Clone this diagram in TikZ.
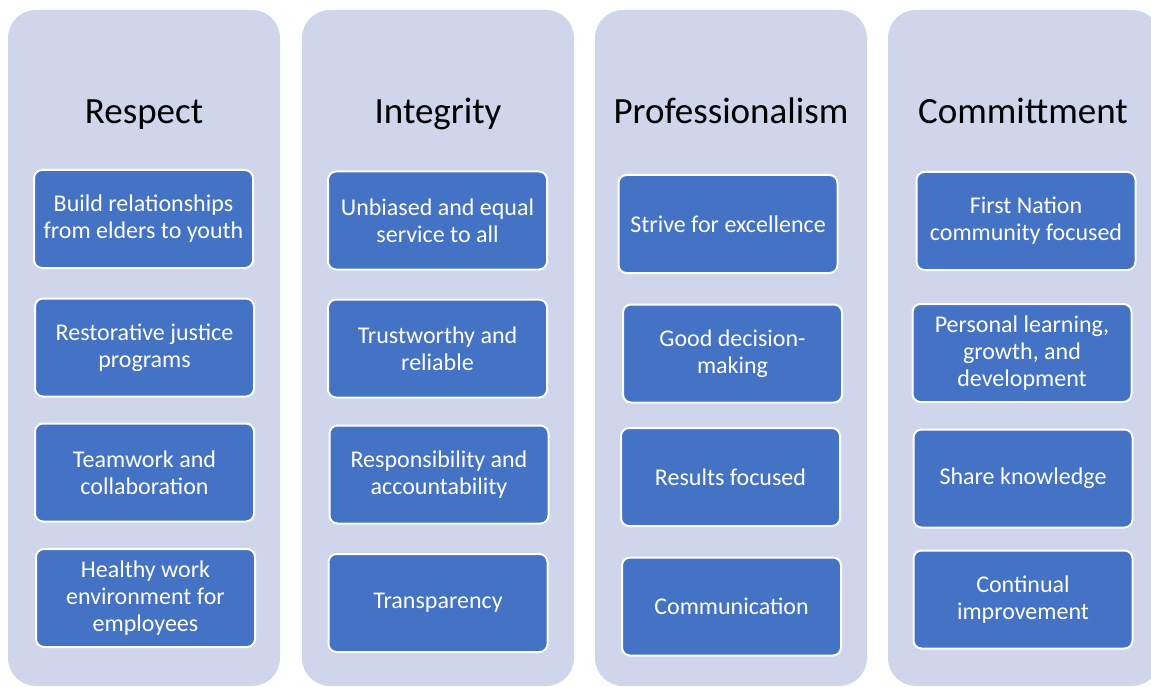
\documentclass[tikz,border=0pt]{standalone}
\usepackage{fontspec}
\setmainfont{Carlito}
\usepackage{xcolor}
\definecolor{colfill}{HTML}{CFD5EA}
\definecolor{boxfill}{HTML}{4472C4}

\begin{document}
\begin{tikzpicture}[x=1pt,y=-1pt]
%style for column background
\tikzstyle{column} = [rectangle, rounded corners=28pt, fill=colfill, minimum width=272pt, minimum height=676pt, inner sep=0pt]

%style for column title
\tikzstyle{title} = [anchor=base, text=black, font=\fontsize{37}{42}\selectfont]

%style for value box
\tikzstyle{vbox} = [rectangle, rounded corners=8pt, fill=boxfill, draw=white, line width=2pt, minimum width=219pt, minimum height=98pt, align=center, text=white, font=\fontsize{24}{27}\selectfont]

\useasboundingbox (0,0) rectangle (1151,687);
\clip (0,0) rectangle (1151,687);

%place columns
\node[column](colR) at (144,348) {};
\node[column](colI) at (438,348) {};
\node[column](colP) at (731,348) {};
\node[column](colC) at (1024,348) {};

%place titles
\node[title](tR) at (144,124) {Respect};
\node[title](tI) at (438,124) {Integrity};
\node[title](tP) at (731,124) {Professionalism};
\node[title](tC) at (1023,124) {Committment};

%place boxes
\node[vbox](R1) at (143.5,219) {Build relationships\\from elders to youth};
\node[vbox](R2) at (144.5,347.5) {Restorative justice\\programs};
\node[vbox](R3) at (144.5,472.5) {Teamwork and\\collaboration};
\node[vbox](R4) at (145.5,598) {Healthy work\\environment for\\employees};

\node[vbox](I1) at (437.5,220.5) {Unbiased and equal\\service to all};
\node[vbox](I2) at (437.5,348.5) {Trustworthy and\\reliable};
\node[vbox](I3) at (439,474.5) {Responsibility and\\accountability};
\node[vbox](I4) at (438,603) {Transparency};

\node[vbox](P1) at (728,224) {Strive for excellence};
\node[vbox](P2) at (732.5,353.5) {Good decision-\\making};
\node[vbox](P3) at (730.5,477) {Results focused};
\node[vbox](P4) at (731.5,606.5) {Communication};

\node[vbox](C1) at (1026,221) {First Nation\\community focused};
\node[vbox](C2) at (1022,353) {Personal learning,\\growth, and\\development};
\node[vbox](C3) at (1023,478.5) {Share knowledge};
\node[vbox](C4) at (1023,599.5) {Continual\\improvement};
\end{tikzpicture}
\end{document}
